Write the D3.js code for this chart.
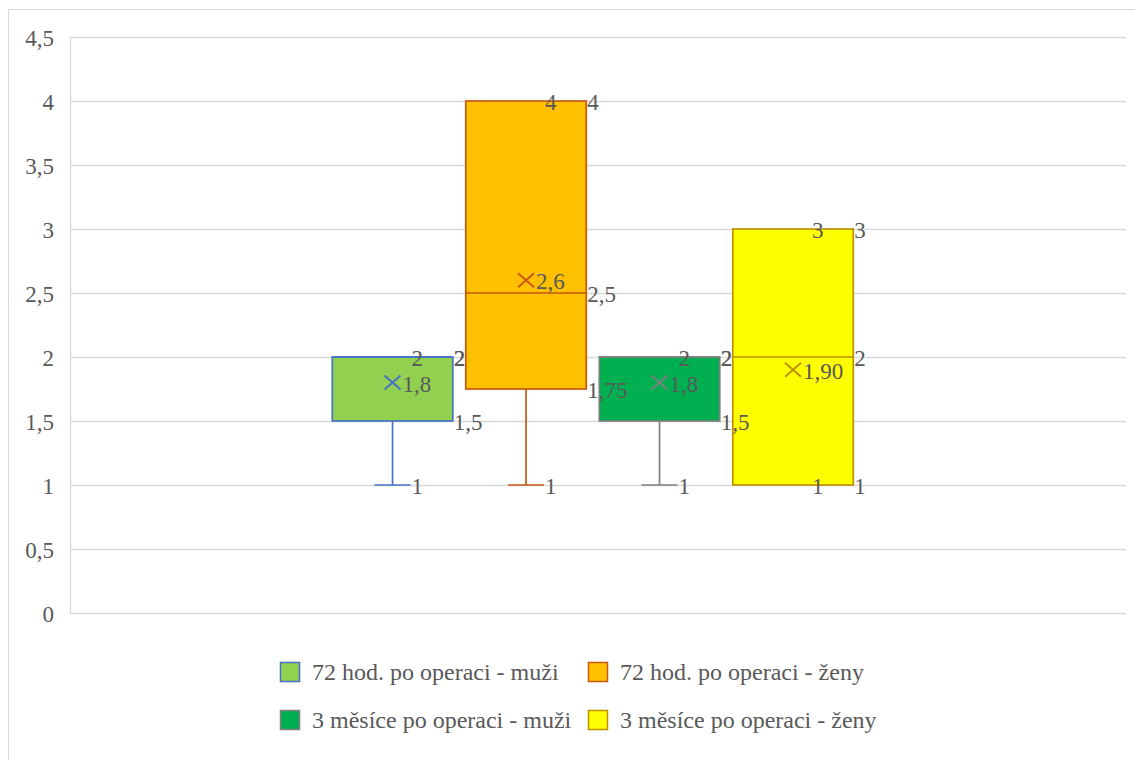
<!DOCTYPE html>
<html>
<head>
<meta charset="utf-8">
<script src="https://cdn.jsdelivr.net/npm/d3@7"></script>
</head>
<body style="margin:0">
<svg id="chart" width="1135" height="760" font-family="Liberation Serif"></svg>
<script>
// ---- data ----
const categories = ["Skupina"];
const seriesNames = [
  "72 hod. po operaci - muži",
  "72 hod. po operaci - ženy",
  "3 měsíce po operaci - muži",
  "3 měsíce po operaci - ženy"
];
const minValues    = [1, 1, 1, 1];
const q1Values     = [1.5, 1.75, 1.5, 1];
const medianValues = [2, 2.5, 2, 2];
const q3Values     = [2, 4, 2, 3];
const maxValues    = [2, 4, 2, 3];
const meanValues   = [1.8, 2.6, 1.8, 1.9];
const meanLabels   = ["1,8", "2,6", "1,8", "1,90"];
const yTicks = [0, 0.5, 1, 1.5, 2, 2.5, 3, 3.5, 4, 4.5];
const yTickLabels = ["0", "0,5", "1", "1,5", "2", "2,5", "3", "3,5", "4", "4,5"];

// ---- styles ----
const fills   = ["#92d050", "#ffc000", "#00b050", "#ffff00"];
const strokes = ["#4472c4", "#c65911", "#7f7f7f", "#bf9000"];
const fontSize = 23;
const legendFontSize = 24;
const textColor = "#595959";
const serifFont = "Liberation Serif";

const svg = d3.select("#chart");
const plot = { left: 70, right: 1126, top: 37, bottom: 613 };

// outer chart border
svg.append("rect")
  .attr("x", 8.5).attr("y", 9.5).attr("width", 1140).attr("height", 760)
  .attr("fill", "none").attr("stroke", "#d9d9d9").attr("stroke-width", 1);

const y = d3.scaleLinear().domain([0, 4.5]).range([plot.bottom, plot.top]);
const x0 = d3.scaleBand().domain(categories).range([plot.left, plot.right])
  .paddingInner(0).paddingOuter(0.4888).align(0.49);
const x1 = d3.scaleBand().domain(seriesNames).range([0, x0.bandwidth()])
  .paddingInner(0.0974).paddingOuter(0.0487);

// gridlines
svg.append("g").selectAll("line").data(yTicks).join("line")
  .attr("x1", plot.left).attr("x2", plot.right)
  .attr("y1", d => Math.round(y(d)) + 0.5).attr("y2", d => Math.round(y(d)) + 0.5)
  .attr("stroke", "#d9d9d9").attr("stroke-width", 1.3);
// left axis line
svg.append("line")
  .attr("x1", plot.left + 0.5).attr("x2", plot.left + 0.5)
  .attr("y1", y(4.5)).attr("y2", y(0))
  .attr("stroke", "#d9d9d9").attr("stroke-width", 1.3);

// y tick labels
svg.append("g").selectAll("text").data(yTicks).join("text")
  .attr("x", 54).attr("y", d => y(d) + 9)
  .attr("text-anchor", "end")
  .attr("font-family", serifFont)
  .attr("font-size", fontSize)
  .attr("fill", textColor)
  .text((d, i) => yTickLabels[i]);

const fmt = v => String(v).replace(".", ",");

const cat = categories[0];
seriesNames.forEach((name, i) => {
  const g = svg.append("g");
  const bx = x0(cat) + x1(name);
  const bw = x1.bandwidth();
  const cx = bx + bw / 2;
  const col = strokes[i];
  const cap = bw * 0.15;

  if (minValues[i] < q1Values[i]) {
    g.append("line").attr("x1", cx).attr("x2", cx)
      .attr("y1", y(q1Values[i])).attr("y2", y(minValues[i]))
      .attr("stroke", col).attr("stroke-width", 1.7);
    g.append("line").attr("x1", cx - cap).attr("x2", cx + cap)
      .attr("y1", y(minValues[i])).attr("y2", y(minValues[i]))
      .attr("stroke", col).attr("stroke-width", 1.7);
  }
  if (maxValues[i] > q3Values[i]) {
    g.append("line").attr("x1", cx).attr("x2", cx)
      .attr("y1", y(q3Values[i])).attr("y2", y(maxValues[i]))
      .attr("stroke", col).attr("stroke-width", 1.7);
    g.append("line").attr("x1", cx - cap).attr("x2", cx + cap)
      .attr("y1", y(maxValues[i])).attr("y2", y(maxValues[i]))
      .attr("stroke", col).attr("stroke-width", 1.7);
  }
  g.append("rect")
    .attr("x", bx).attr("y", y(q3Values[i]))
    .attr("width", bw).attr("height", y(q1Values[i]) - y(q3Values[i]))
    .attr("fill", fills[i]).attr("stroke", col).attr("stroke-width", 1.7);
  g.append("line").attr("x1", bx).attr("x2", bx + bw)
    .attr("y1", y(medianValues[i])).attr("y2", y(medianValues[i]))
    .attr("stroke", col).attr("stroke-width", 1.7);
  const my = y(meanValues[i]);
  g.append("path")
    .attr("d", `M${cx - 8},${my - 7}L${cx + 8},${my + 7}M${cx - 8},${my + 7}L${cx + 8},${my - 7}`)
    .attr("stroke", col).attr("stroke-width", 2).attr("fill", "none");
});

// data labels
seriesNames.forEach((name, i) => {
  const g = svg.append("g");
  const bx = x0(cat) + x1(name);
  const bw = x1.bandwidth();
  const cx = bx + bw / 2;
  const lab = (xx, v, t) => g.append("text")
    .attr("x", xx).attr("y", y(v) + 9)
    .attr("font-family", serifFont)
    .attr("font-size", fontSize)
    .attr("fill", textColor)
    .text(t);
  lab(cx + 19, maxValues[i], fmt(maxValues[i]));
  lab(cx + 19, minValues[i], fmt(minValues[i]));
  lab(bx + bw + 1, q3Values[i], fmt(q3Values[i]));
  lab(bx + bw + 1, medianValues[i], fmt(medianValues[i]));
  lab(bx + bw + 1, q1Values[i], fmt(q1Values[i]));
  lab(cx + 10, meanValues[i], meanLabels[i]);
});

// legend
const legendPos = [
  { x: 280, y: 672 }, { x: 588, y: 672 },
  { x: 280, y: 720 }, { x: 588, y: 720 }
];
const lg = svg.append("g");
seriesNames.forEach((name, i) => {
  const p = legendPos[i];
  lg.append("rect").attr("x", p.x + 0.5).attr("y", p.y - 9.5)
    .attr("width", 19).attr("height", 19)
    .attr("fill", fills[i]).attr("stroke", strokes[i]).attr("stroke-width", 1.5);
  lg.append("text").attr("x", p.x + 32).attr("y", p.y + 8)
    .attr("font-family", serifFont)
    .attr("font-size", legendFontSize)
    .attr("fill", textColor)
    .text(name);
});
</script>
</body>
</html>
